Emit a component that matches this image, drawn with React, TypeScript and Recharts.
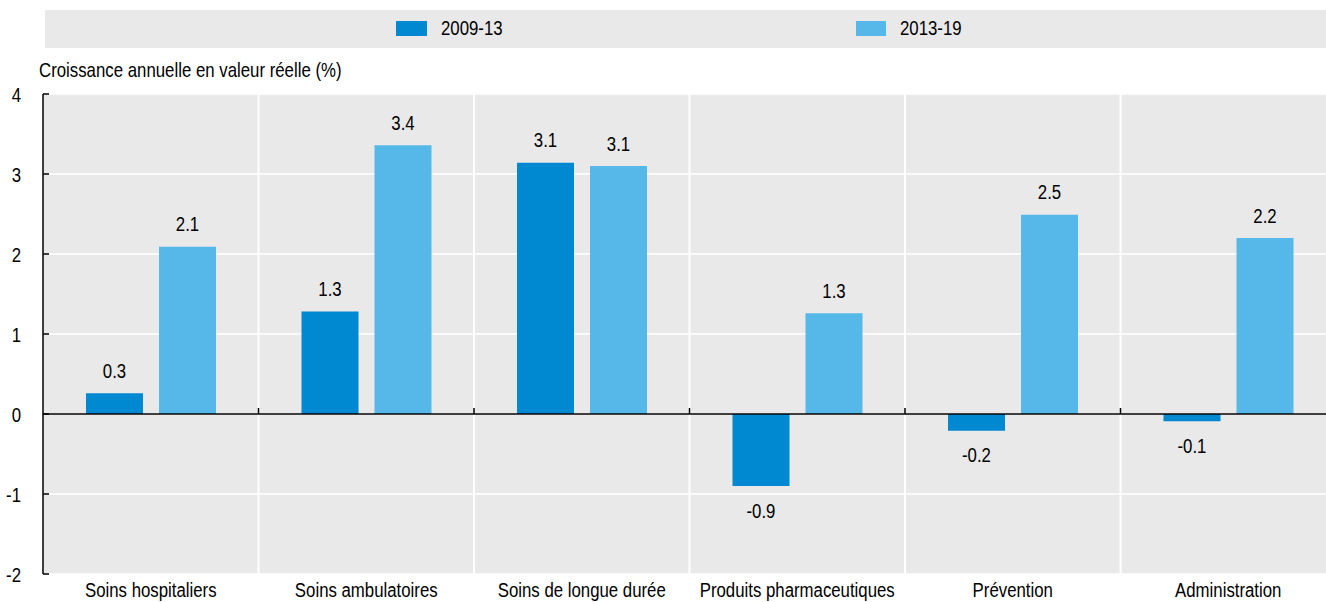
import React from "react";
import {
  BarChart,
  Bar,
  XAxis,
  YAxis,
  CartesianGrid,
  ReferenceLine,
  LabelList,
} from "recharts";

const categories = [
  "Soins hospitaliers",
  "Soins ambulatoires",
  "Soins de longue durée",
  "Produits pharmaceutiques",
  "Prévention",
  "Administration",
];
const series2009_13 = [0.26, 1.28, 3.14, -0.9, -0.21, -0.09];
const series2013_19 = [2.09, 3.36, 3.1, 1.26, 2.49, 2.2];
const yTicks = [-2, -1, 0, 1, 2, 3, 4];
const seriesNames = ["2009-13", "2013-19"];
const boundaries = [1, 2, 3, 4, 5];

const data = categories.map((c, i) => ({
  name: c,
  pos: i + 0.5,
  a: series2009_13[i],
  b: series2013_19[i],
}));

const DARK = "#0089d0";
const LIGHT = "#56b8e8";
const BG = "#e9e9e9";
const FONT = "'Liberation Sans', Arial, sans-serif";
const FS = 21;
const SX = 0.8;

const NarrowText = (props: any) => {
  const { x, y, anchor, children } = props;
  return (
    <text
      transform={`translate(${x},${y}) scale(${SX},1)`}
      x={0}
      y={0}
      textAnchor={anchor}
      fontFamily={FONT}
      fontSize={FS}
      fill="#000"
    >
      {children}
    </text>
  );
};

const YTick = (props: any) => {
  const { x, y, payload } = props;
  return (
    <g>
      <line x1={x} x2={x + 6} y1={y} y2={y} stroke="#000" strokeWidth={1.5} />
      <NarrowText x={x - 22} y={y + 7.5} anchor="end">
        {payload.value}
      </NarrowText>
    </g>
  );
};

const XTick = (props: any) => {
  const { x, y, payload } = props;
  return (
    <NarrowText x={x} y={y + 15} anchor="middle">
      {payload.value}
    </NarrowText>
  );
};

const ValueLabel = (props: any) => {
  const { x, y, width, height, value } = props;
  const top = Math.min(y, y + height);
  const bottom = Math.max(y, y + height);
  const cx = x + width / 2;
  const ty = value >= 0 ? top - 15.5 : bottom + 31.5;
  return (
    <NarrowText x={cx} y={ty} anchor="middle">
      {Number(value).toFixed(1)}
    </NarrowText>
  );
};

const htmlText = (left: number, top: number, text: string) => (
  <div
    style={{
      position: "absolute",
      left,
      top,
      fontSize: FS,
      lineHeight: "24px",
      color: "#000",
      whiteSpace: "nowrap",
      transform: `scaleX(${SX})`,
      transformOrigin: "left top",
    }}
  >
    {text}
  </div>
);

export default function App() {
  return (
    <div
      style={{
        position: "absolute",
        left: 0,
        top: 0,
        width: 1326,
        height: 602,
        background: "#fff",
        fontFamily: FONT,
        overflow: "hidden",
      }}
    >
      <div
        style={{
          position: "absolute",
          left: 45,
          top: 10,
          width: 1281,
          height: 38,
          background: BG,
        }}
      >
        <div
          style={{
            position: "absolute",
            left: 351,
            top: 11,
            width: 31,
            height: 15,
            background: DARK,
          }}
        />
        {htmlText(396, 6, seriesNames[0])}
        <div
          style={{
            position: "absolute",
            left: 811,
            top: 11,
            width: 30,
            height: 15,
            background: LIGHT,
          }}
        />
        {htmlText(855, 6, seriesNames[1])}
      </div>
      {htmlText(39, 58, "Croissance annuelle en valeur réelle (%)")}
      <BarChart
        width={1326}
        height={602}
        data={data}
        margin={{ top: 94, right: -10, bottom: 0, left: 0 }}
        barSize={57}
        barGap={16}
        style={{ position: "absolute", left: 0, top: 0 }}
      >
        <CartesianGrid
          vertical={false}
          stroke="#fff"
          strokeWidth={1.5}
          fill={BG}
        />
        <XAxis
          dataKey="name"
          axisLine={false}
          tickLine={false}
          tick={<XTick />}
          interval={0}
          height={28}
        />
        <XAxis
          xAxisId="num"
          dataKey="pos"
          type="number"
          domain={[0, 6]}
          ticks={[0, 1, 2, 3, 4, 5, 6]}
          allowDataOverflow={true}
          height={0}
          hide
        />
        <YAxis
          type="number"
          domain={[-2, 4]}
          ticks={yTicks}
          width={43}
          tickLine={false}
          tickSize={0}
          tickMargin={0}
          axisLine={{ stroke: "#000", strokeWidth: 1.5 }}
          tick={<YTick />}
          interval={0}
        />
        {boundaries.map((b) => (
          <ReferenceLine
            key={"v" + b}
            xAxisId="num"
            x={b}
            stroke="#fff"
            strokeWidth={2}
          />
        ))}
        <Bar dataKey="a" name={seriesNames[0]} fill={DARK} isAnimationActive={false}>
          <LabelList dataKey="a" content={<ValueLabel />} />
        </Bar>
        <Bar dataKey="b" name={seriesNames[1]} fill={LIGHT} isAnimationActive={false}>
          <LabelList dataKey="b" content={<ValueLabel />} />
        </Bar>
        <ReferenceLine y={0} stroke="#000" strokeWidth={1.5} />
        {boundaries.map((b) => (
          <ReferenceLine
            key={"t" + b}
            xAxisId="num"
            segment={[
              { x: b, y: 0 },
              { x: b, y: 0.075 },
            ]}
            stroke="#000"
            strokeWidth={1.5}
          />
        ))}
      </BarChart>
    </div>
  );
}
